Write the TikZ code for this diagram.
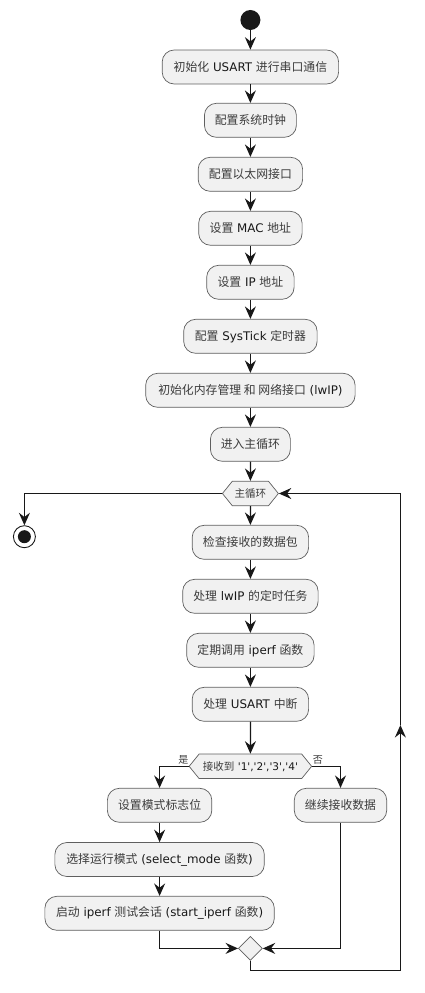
\documentclass[tikz,border=0pt]{standalone}
\usepackage{fontspec}
\setmainfont{DejaVu Sans}
\newfontfamily\cjk[Color=3C3C3C]{Noto Sans CJK SC}
\usepackage{xcolor}
\usetikzlibrary{shapes.geometric,shapes.symbols,arrows.meta}

\definecolor{linedark}{HTML}{181818}
\definecolor{boxfill}{HTML}{F1F1F1}
\definecolor{boxline}{HTML}{5F5F5F}

\tikzset{
  actbox/.style={draw=boxline, fill=boxfill, line width=0.4pt, rounded corners=0.24cm,
    minimum height=0.68cm, inner xsep=0pt, inner ysep=0pt, text=linedark,
    font=\fontsize{6.75}{8}\selectfont},
  hexbox/.style={draw=boxline, fill=boxfill, line width=0.4pt, shape=signal,
    signal to=west and east, signal pointer angle=102, minimum height=0.49cm,
    inner xsep=0pt, inner ysep=0pt, text=linedark, font=\fontsize{6}{7}\selectfont},
  mergebox/.style={draw=boxline, fill=boxfill, line width=0.4pt, shape=diamond,
    minimum size=0.48cm, inner sep=0pt},
  flow/.style={draw=linedark, line width=0.7pt,
    -{Stealth[length=0.25cm, width=0.22cm, inset=0.085cm]}},
  plain/.style={draw=linedark, line width=0.7pt},
  branchlabel/.style={inner sep=0pt, text=linedark, font=\fontsize{5.7}{6}\selectfont}
}

\begin{document}
\begin{tikzpicture}[x=0.02cm, y=-0.02cm]
  \useasboundingbox (0, 0) rectangle (425, 993);

  % Start
  \node[circle, fill=linedark, minimum size=0.4cm, inner sep=0pt] (start) at (250.4, 20) {};

  % Setup steps
  \node[actbox, minimum width=3.53cm] (usart) at (250.4, 67) {{\cjk 初始化} USART {\cjk 进行串口通信}};
  \node[actbox, minimum width=1.84cm] (clock) at (250.4, 120.3) {\cjk 配置系统时钟};
  \node[actbox, minimum width=2.09cm] (eth) at (250.4, 174.3) {\cjk 配置以太网接口};
  \node[actbox, minimum width=2.07cm] (mac) at (250.4, 228.3) {{\cjk 设置} MAC {\cjk 地址}};
  \node[actbox, minimum width=1.75cm] (ip) at (250.4, 282.3) {{\cjk 设置} IP {\cjk 地址}};
  \node[actbox, minimum width=2.67cm] (systick) at (250.4, 336.3) {{\cjk 配置} SysTick {\cjk 定时器}};
  \node[actbox, minimum width=4.19cm] (lwip) at (250.4, 390.3) {{\cjk 初始化内存管理 和 网络接口} (lwIP)};
  \node[actbox, minimum width=1.6cm] (enter) at (250.4, 444.3) {\cjk 进入主循环};

  % Main loop head and stop
  \node[hexbox, minimum width=1.12cm] (mainloop) at (250.4, 493.5) {\cjk 主循环};
  \node[circle, draw=linedark, fill=white, line width=0.5pt, minimum size=0.44cm, inner sep=0pt] (stop) at (24.4, 536.7) {};
  \node[circle, fill=linedark, minimum size=0.26cm, inner sep=0pt] (stopdot) at (stop) {};

  % Loop body
  \node[actbox, minimum width=2.33cm] (check) at (250.4, 542.3) {\cjk 检查接收的数据包};
  \node[actbox, minimum width=2.71cm] (timer) at (250.4, 596.3) {{\cjk 处理} lwIP {\cjk 的定时任务}};
  \node[actbox, minimum width=2.55cm] (iperf) at (250.4, 650.3) {{\cjk 定期调用} iperf {\cjk 函数}};
  \node[actbox, minimum width=2.33cm] (irq) at (250.4, 704.3) {{\cjk 处理} USART {\cjk 中断}};

  % Branch on received key
  \node[hexbox, minimum width=2.45cm] (cond) at (250.4, 766.3) {{\cjk 接收到} \textquotesingle 1\textquotesingle,\textquotesingle 2\textquotesingle,\textquotesingle 3\textquotesingle,\textquotesingle 4\textquotesingle};
  \node[branchlabel] (yeslabel) at (183.5, 760) {\cjk 是};
  \node[branchlabel] (nolabel) at (318, 760) {\cjk 否};

  % Yes side
  \node[actbox, minimum width=2.09cm] (flag) at (159.6, 805.3) {\cjk 设置模式标志位};
  \node[actbox, minimum width=4.19cm] (mode) at (159.6, 859.5) {{\cjk 选择运行模式} (select\_mode {\cjk 函数})};
  \node[actbox, minimum width=4.59cm] (session) at (159.6, 913.3) {{\cjk 启动} iperf {\cjk 测试会话} (start\_iperf {\cjk 函数})};

  % No side
  \node[actbox, minimum width=1.85cm] (goon) at (340.5, 805.3) {\cjk 继续接收数据};

  % Merge and way back up
  \node[mergebox] (merge) at (250.4, 948.4) {};
  \coordinate (backlow) at (400.4, 970.5);
  \coordinate (backmid) at (400.4, 725);

  % Straight arrows
  \draw[flow] (start) -- (usart);
  \draw[flow] (usart) -- (clock);
  \draw[flow] (clock) -- (eth);
  \draw[flow] (eth) -- (mac);
  \draw[flow] (mac) -- (ip);
  \draw[flow] (ip) -- (systick);
  \draw[flow] (systick) -- (lwip);
  \draw[flow] (lwip) -- (enter);
  \draw[flow] (enter) -- (mainloop);
  \draw[flow] (mainloop) -- (check);
  \draw[flow] (check) -- (timer);
  \draw[flow] (timer) -- (iperf);
  \draw[flow] (iperf) -- (irq);
  \draw[flow] (irq) -- (cond);
  \draw[flow] (flag) -- (mode);
  \draw[flow] (mode) -- (session);

  % Elbow arrows
  \draw[flow] (mainloop.west) -| (stop.north);
  \draw[flow] (cond.west) -| (flag.north);
  \draw[flow] (cond.east) -| (goon.north);
  \draw[flow] (session.south) |- (merge.west);
  \draw[flow] (goon.south) |- (merge.east);
  \draw[plain] (merge.south) |- (backlow);
  \draw[flow] (backlow) -- (backmid);
  \draw[flow] (backmid) |- (mainloop.east);
\end{tikzpicture}
\end{document}
